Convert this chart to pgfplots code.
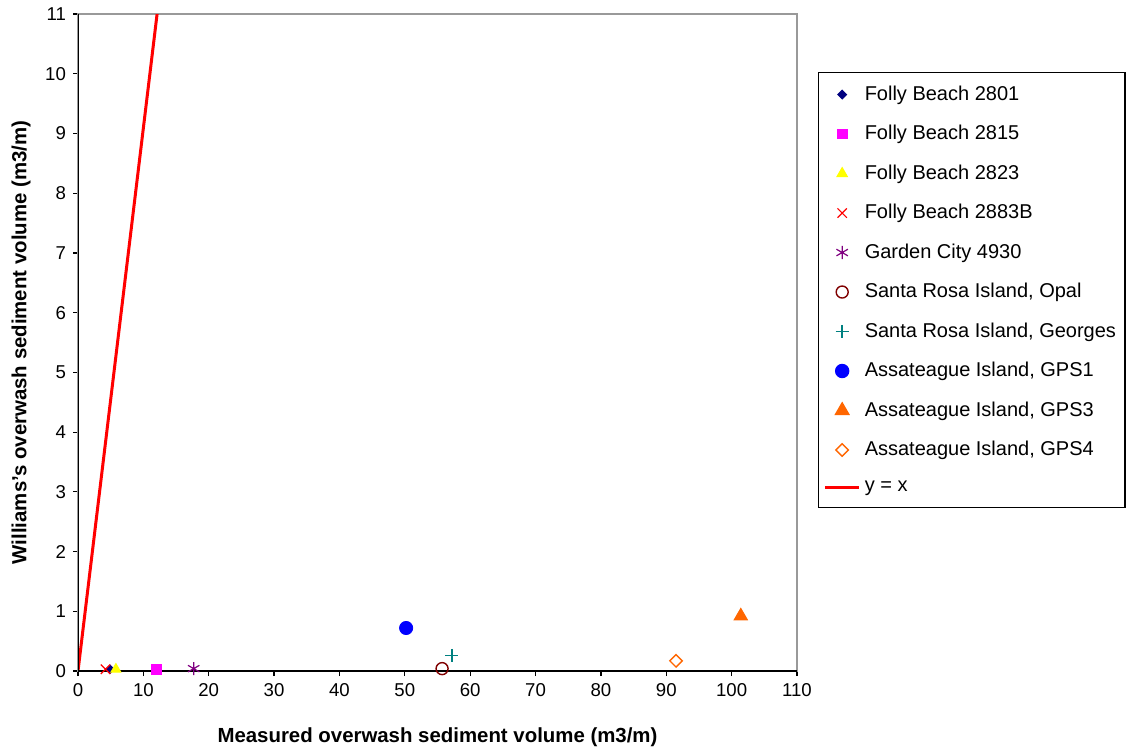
\documentclass[border=0pt]{standalone}
\usepackage{pgfplots}
\pgfplotsset{compat=1.18}
\usepackage{fontspec}
\setmainfont{Liberation Sans}
\definecolor{navyc}{RGB}{0,0,128}
\definecolor{magc}{RGB}{255,0,255}
\definecolor{yelc}{RGB}{255,255,0}
\definecolor{purc}{RGB}{128,0,128}
\definecolor{darkred}{RGB}{128,0,0}
\definecolor{tealc}{RGB}{0,128,128}
\definecolor{orc}{RGB}{255,102,0}
\begin{document}
\begin{tikzpicture}
\begin{axis}[
  scale only axis,
  width=359.5pt, height=328.5pt,
  xmin=0, xmax=110, ymin=0, ymax=11,
  xtick distance=10, ytick distance=1,
  tick align=outside, major tick length=2.5pt,
  xtick pos=bottom, ytick pos=left,
  tick style={black, line width=0.6pt},
  axis line style={gray!80, line width=0.6pt},
  /pgf/number format/assume math mode=true,
  ticklabel style={font=\fontsize{9.3}{11}\selectfont},
  xlabel={\bfseries Measured overwash sediment volume (m3/m)},
  ylabel={\bfseries Williams's overwash sediment volume (m3/m)},
  label style={font=\fontsize{10.2}{12}\selectfont},
  xlabel style={yshift=-9pt},
  ylabel style={yshift=0.5pt},
  legend cell align=left,
  legend style={at={(1.0292,0.9117)}, anchor=north west,
    font=\fontsize{10}{12}\selectfont, draw=black, line width=0.6pt,
    row sep=7.0pt, inner xsep=2.5pt, inner ysep=4.6pt},
]
\addplot[only marks, mark=square*, mark size=1.5pt, mark options={rotate=45}, color=navyc] coordinates {(4.9,0.03)};
\addlegendentry{Folly Beach 2801}
\addplot[only marks, mark=square*, mark size=2.4pt, color=magc] coordinates {(12.0,0.03)};
\addlegendentry{Folly Beach 2815}
\addplot[only marks, mark=triangle*, mark size=2.9pt, color=yelc] coordinates {(5.8,0.03)};
\addlegendentry{Folly Beach 2823}
\addplot[only marks, mark=x, mark size=3.3pt, color=red, mark options={line width=0.6pt}] coordinates {(4.2,0.03)};
\addlegendentry{Folly Beach 2883B}
\addplot[only marks, mark=asterisk, mark size=3.3pt, color=purc, mark options={line width=0.6pt}] coordinates {(17.7,0.04)};
\addlegendentry{Garden City 4930}
\addplot[only marks, mark=o, mark size=3pt, color=darkred, mark options={line width=0.7pt}] coordinates {(55.7,0.04)};
\addlegendentry{Santa Rosa Island, Opal}
\addplot[only marks, mark=+, mark size=3.3pt, color=tealc, mark options={line width=0.7pt}] coordinates {(57.2,0.26)};
\addlegendentry{Santa Rosa Island, Georges}
\addplot[only marks, mark=*, mark size=3.3pt, color=blue] coordinates {(50.2,0.72)};
\addlegendentry{Assateague Island, GPS1}
\addplot[only marks, mark=triangle*, mark size=3.9pt, color=orc] coordinates {(101.4,0.92)};
\addlegendentry{Assateague Island, GPS3}
\addplot[only marks, mark=square, mark size=2.2pt, color=orc, mark options={line width=0.7pt, rotate=45}] coordinates {(91.5,0.17)};
\addlegendentry{Assateague Island, GPS4}
\addplot[red, line width=1.5pt, no marks] coordinates {(0,0) (12.1,11)};
\addlegendentry{y = x}
\draw[black, line width=0.6pt] (rel axis cs:0,1) -- (rel axis cs:0,0) -- (rel axis cs:1,0);
\end{axis}
\path (current axis.south west) ++(-39pt,-39.5pt) rectangle ++(563.5pt,375pt);
\end{tikzpicture}
\end{document}
